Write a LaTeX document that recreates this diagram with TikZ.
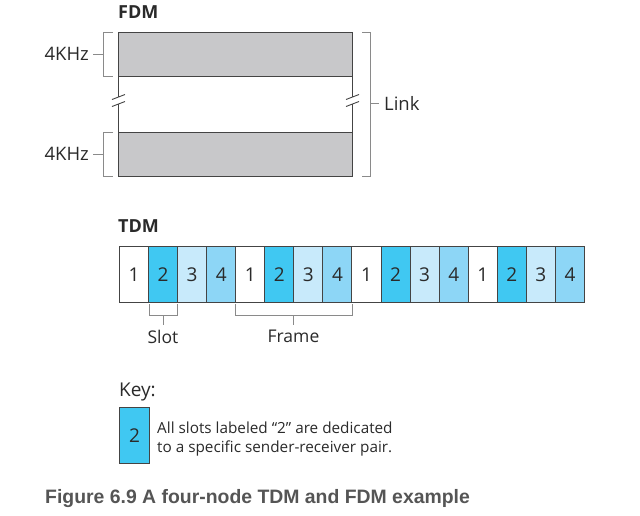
\documentclass[tikz,border=0pt]{standalone}
\usepackage{fontspec}
\setmainfont{Open Sans}
\newfontfamily\capfont{Liberation Sans}
\definecolor{gbox}{HTML}{C8C8CA}
\definecolor{sdark}{HTML}{40C8F2}
\definecolor{slight}{HTML}{C8EAFB}
\definecolor{smid}{HTML}{8DD6F6}
\definecolor{edge}{HTML}{444444}
\definecolor{brk}{HTML}{8A8A8A}
\definecolor{txt}{HTML}{2A2A2A}
\definecolor{captxt}{HTML}{555555}
\begin{document}
\begin{tikzpicture}[x=1pt,y=-1pt,
  slotbox/.style={draw=edge,line width=1pt,minimum width=29.06pt,minimum height=56pt,inner sep=0pt,anchor=north west,font=\fontsize{19}{22}\selectfont,text=txt},
  bandbox/.style={draw=edge,line width=1pt,fill=gbox},
  brack/.style={draw=brk,line width=0.9pt},
  lbl/.style={font=\fontsize{18.5}{22}\selectfont,text=txt,inner sep=0pt},
  head/.style={font=\bfseries\fontsize{18}{21}\selectfont,text=txt,inner sep=0pt,anchor=west}]
\useasboundingbox (0,0) rectangle (640,515);
\fill[white] (0,0) rectangle (640,515);
% FDM
\node[head] (fdm) at (118,12) {FDM};
\draw[bandbox] (118,32) rectangle (352,76);
\draw[bandbox] (118,132) rectangle (352,176);
\draw[edge,line width=1pt] (118,76) -- (118,97) (118,104) -- (118,132);
\draw[edge,line width=1pt] (352,76) -- (352,97) (352,104) -- (352,132);
\draw[edge,line width=0.9pt] (112,99.5) -- (125,94.5) (112,106.5) -- (125,101.5);
\draw[edge,line width=0.9pt] (346,99.5) -- (359,94.5) (346,106.5) -- (359,101.5);
% left brackets
\draw[brack] (113,32) -- (103,32) -- (103,76) -- (113,76);
\draw[brack] (103,54) -- (93,54);
\node[lbl,anchor=east] (k1) at (89,54) {4KHz};
\draw[brack] (113,132) -- (103,132) -- (103,176) -- (113,176);
\draw[brack] (103,154) -- (93,154);
\node[lbl,anchor=east] (k2) at (89,154) {4KHz};
% right bracket
\draw[brack] (362,32) -- (370,32) -- (370,176) -- (362,176);
\draw[brack] (370,103) -- (379,103);
\node[lbl,anchor=west] (link) at (384,103) {Link};
% TDM
\node[head] (tdm) at (118,226) {TDM};
\foreach \i/\c/\n in {1/white/1,2/sdark/2,3/slight/3,4/smid/4,
                      5/white/1,6/sdark/2,7/slight/3,8/smid/4,
                      9/white/1,10/sdark/2,11/slight/3,12/smid/4,
                      13/white/1,14/sdark/2,15/slight/3,16/smid/4}
  \node[slotbox,fill=\c] (s\i) at ({119+(\i-1)*29.06},246) {\n};
% slot bracket
\draw[brack] (149,304) -- (149,315) -- (177,315) -- (177,304);
\draw[brack] (163,315) -- (163,325);
\node[lbl,anchor=north,font=\fontsize{17.5}{21}\selectfont] (slot) at (163,330) {Slot};
% frame bracket
\draw[brack] (235,304) -- (235,315) -- (352,315) -- (352,304);
\draw[brack] (293.5,315) -- (293.5,325);
\node[lbl,anchor=north,font=\fontsize{17.5}{21}\selectfont] (frame) at (293.5,330) {Frame};
% Key
\node[lbl,anchor=base west,font=\fontsize{19}{22}\selectfont] (key) at (119,396) {Key:};
\node[slotbox,fill=sdark,minimum width=30pt] (kbox) at (119,407) {2};
\node[lbl,anchor=base west,font=\fontsize{15.3}{18}\selectfont] (kt1) at (157,433) {All slots labeled “2” are dedicated};
\node[lbl,anchor=base west,font=\fontsize{15.3}{18}\selectfont] (kt2) at (157,452) {to a specific sender-receiver pair.};
% caption
\node[anchor=base west,inner sep=0pt,text=captxt,font=\capfont\bfseries\fontsize{19.4}{22}\selectfont] (cap) at (45,503) {Figure 6.9 A four-node TDM and FDM example};
\end{tikzpicture}
\end{document}
